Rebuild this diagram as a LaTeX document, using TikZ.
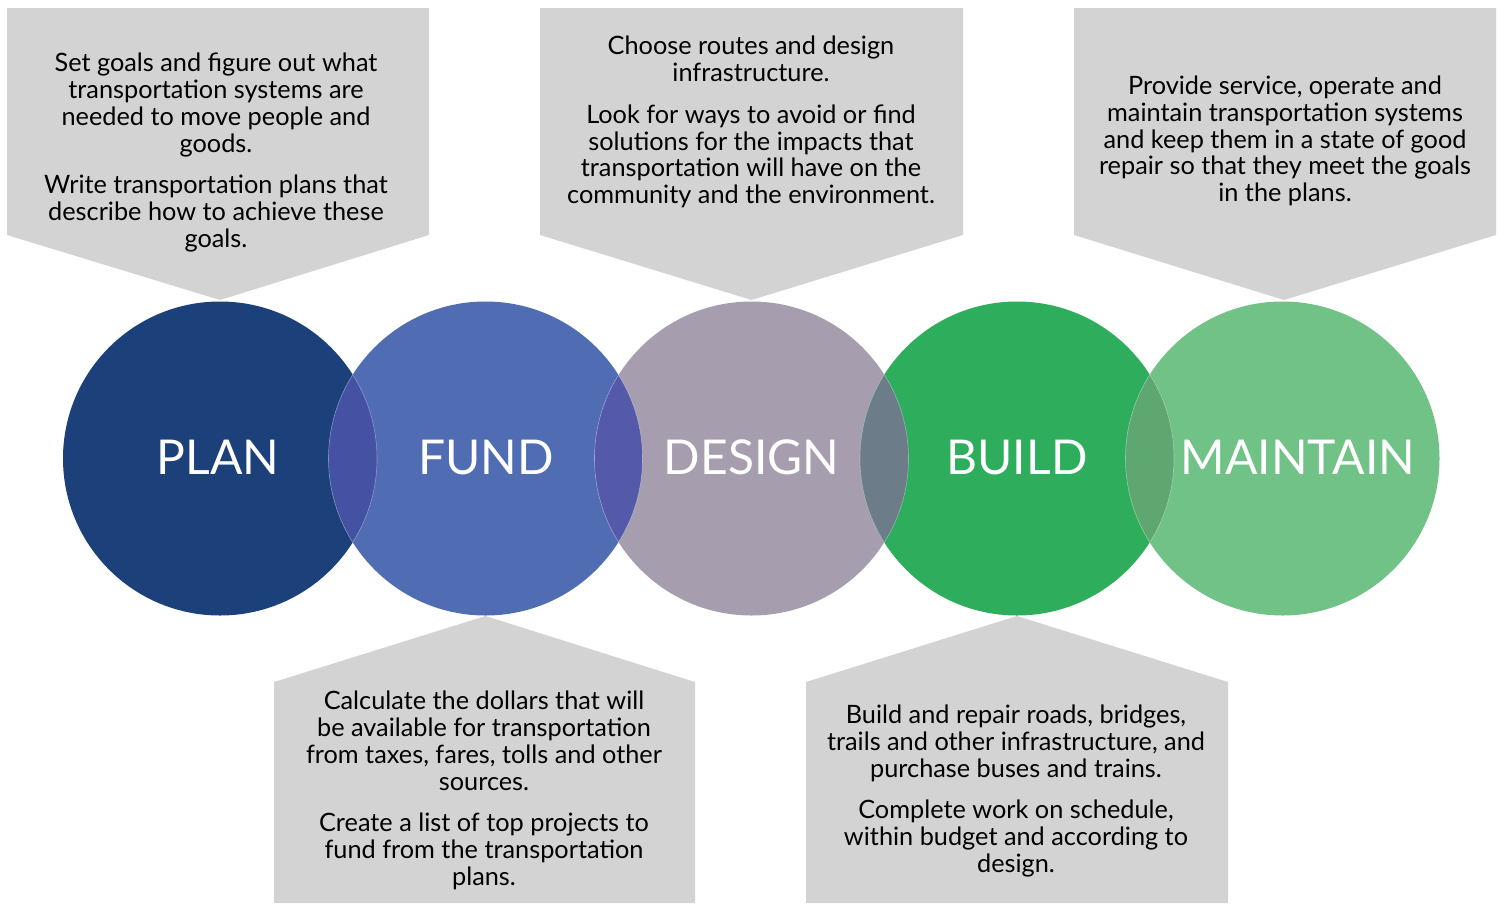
\documentclass[tikz,border=0pt]{standalone}
\usepackage{fontspec}
\setmainfont{Lato}
\definecolor{planc}{HTML}{1C417A}
\definecolor{fundc}{HTML}{506CB3}
\definecolor{designc}{HTML}{A69EAE}
\definecolor{buildc}{HTML}{2EAE5D}
\definecolor{maintc}{HTML}{71C287}
\definecolor{lensA}{HTML}{4552A3}
\definecolor{lensB}{HTML}{5459A9}
\definecolor{lensC}{HTML}{6C7C89}
\definecolor{lensD}{HTML}{5EA771}
\definecolor{boxc}{HTML}{D3D3D3}
\begin{document}
\begin{tikzpicture}[x=1pt,y=-1pt,
  callout/.style={fill=boxc,draw=none},
  ring/.style={circle,draw=none,minimum size=314pt,inner sep=0pt},
  lensline/.style={draw=white,draw opacity=0.35,line width=0.6pt},
  stage/.style={text=white,font=\fontsize{48}{54}\selectfont},
  desc/.style={align=center,text=black,font=\fontsize{25.3}{26.8}\selectfont,inner sep=0pt}]
\useasboundingbox (0,0) rectangle (1504,903);
% callouts
\path[callout] (7,8) -- (429,8) -- (429,235) -- (220,300) -- (7,235) -- cycle;
\path[callout] (540,8) -- (963,8) -- (963,235) -- (751.5,300) -- (540,235) -- cycle;
\path[callout] (1074,8) -- (1496,8) -- (1496,235) -- (1284,300) -- (1074,235) -- cycle;
\path[callout] (274,903) -- (274,682) -- (485.5,616) -- (695,682) -- (695,903) -- cycle;
\path[callout] (806,903) -- (806,682) -- (1017,616) -- (1228,682) -- (1228,903) -- cycle;
% circles
\node[ring,fill=planc] (plan) at (220,458.5) {};
\node[ring,fill=fundc] (fund) at (485.5,458.5) {};
\node[ring,fill=designc] (design) at (751.5,458.5) {};
\node[ring,fill=buildc] (build) at (1017,458.5) {};
\node[ring,fill=maintc] (maint) at (1282.5,458.5) {};
% lenses
\begin{scope}\clip (220,458.5) circle (157);
  \fill[lensA] (485.5,458.5) circle (157);
  \draw[lensline] (485.5,458.5) circle (157);\end{scope}
\begin{scope}\clip (485.5,458.5) circle (157);
  \draw[lensline] (220,458.5) circle (157);\end{scope}
\begin{scope}\clip (485.5,458.5) circle (157);
  \fill[lensB] (751.5,458.5) circle (157);
  \draw[lensline] (751.5,458.5) circle (157);\end{scope}
\begin{scope}\clip (751.5,458.5) circle (157);
  \draw[lensline] (485.5,458.5) circle (157);\end{scope}
\begin{scope}\clip (751.5,458.5) circle (157);
  \fill[lensC] (1017,458.5) circle (157);
  \draw[lensline] (1017,458.5) circle (157);\end{scope}
\begin{scope}\clip (1017,458.5) circle (157);
  \draw[lensline] (751.5,458.5) circle (157);\end{scope}
\begin{scope}\clip (1017,458.5) circle (157);
  \fill[lensD] (1282.5,458.5) circle (157);
  \draw[lensline] (1282.5,458.5) circle (157);\end{scope}
\begin{scope}\clip (1282.5,458.5) circle (157);
  \draw[lensline] (1017,458.5) circle (157);\end{scope}
% stage labels
\node[stage] (planlbl) at (218,457) {PLAN};
\node[stage] (fundlbl) at (486,457) {FUND};
\node[stage] (designlbl) at (751.5,457) {DESIGN};
\node[stage] (buildlbl) at (1017,457) {BUILD};
\node[stage] (maintlbl) at (1298,457) {MAINTAIN};
% descriptions
\node[desc] (plantxt) at (216,152.5) {Set goals and figure out what\\transportation systems are\\needed to move people and\\goods.\\[15pt]Write transportation plans that\\describe how to achieve these\\goals.};
\node[desc] (designtxt) at (751,122) {Choose routes and design\\infrastructure.\\[15pt]Look for ways to avoid or find\\solutions for the impacts that\\transportation will have on the\\community and the environment.};
\node[desc] (mainttxt) at (1285,141) {Provide service, operate and\\maintain transportation systems\\and keep them in a state of good\\repair so that they meet the goals\\in the plans.};
\node[desc] (fundtxt) at (484,790.5) {Calculate the dollars that will\\be available for transportation\\from taxes, fares, tolls and other\\sources.\\[15pt]Create a list of top projects to\\fund from the transportation\\plans.};
\node[desc] (buildtxt) at (1016,791) {Build and repair roads, bridges,\\trails and other infrastructure, and\\purchase buses and trains.\\[15pt]Complete work on schedule,\\within budget and according to\\design.};
\end{tikzpicture}
\end{document}
